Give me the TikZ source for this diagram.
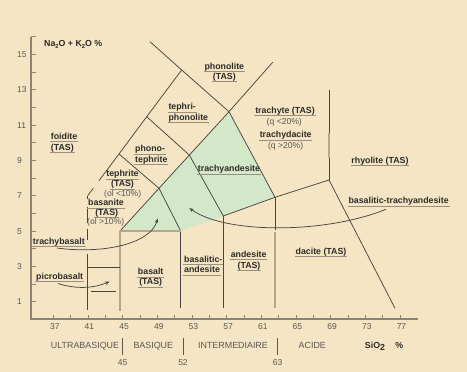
\documentclass[tikz,border=0pt]{standalone}
\usepackage{fontspec}
\setmainfont{Liberation Sans}
\usetikzlibrary{arrows.meta}
\definecolor{bg}{HTML}{F5E5C4}
\definecolor{grn}{HTML}{D3E8C9}
\definecolor{ink}{HTML}{4A4541}
\definecolor{tanl}{HTML}{B3A88F}
\definecolor{axc}{HTML}{8C8373}
\definecolor{txt}{HTML}{2E2B28}
\definecolor{gtxt}{HTML}{5A5652}
\definecolor{ulcol}{HTML}{9A907F}
\newcommand\ulz[1]{\sbox0{#1}\rlap{\hspace{-0.8pt}\textcolor{ulcol}{\rule[-3pt]{\dimexpr\wd0+1.6pt\relax}{0.9pt}}}\usebox0}
\newcommand\subz[1]{\raisebox{-1.6pt}{\fontsize{5.8}{6}\selectfont #1}}
\tikzset{
  ln/.style={draw=ink, line width=0.75pt},
  thk/.style={draw=tanl, line width=1.8pt},
  lab/.style={font=\fontsize{8.8}{10}\selectfont\bfseries, text=txt, inner sep=0pt, anchor=base},
  labw/.style={lab, anchor=base west},
  sml/.style={font=\fontsize{8.6}{10}\selectfont, text=gtxt, inner sep=0pt, anchor=base},
  axn/.style={font=\fontsize{8.5}{10}\selectfont, text=gtxt, inner sep=0pt, anchor=base},
  zone/.style={font=\fontsize{8.9}{10}\selectfont, text=gtxt, inner sep=0pt, anchor=base},
  arr/.style={draw=ink, line width=0.75pt, -{Stealth[length=4.5pt,width=3.5pt]}},
}
\begin{document}
\begin{tikzpicture}[x=1pt,y=-1pt]
\fill[bg] (0,0) rectangle (467,372);
\useasboundingbox (0,0) rectangle (467,372);

% key points
\coordinate (T1) at (150,41.7);
\coordinate (A) at (181.7,70);
\coordinate (G5) at (229,111.7);
\coordinate (T2) at (272.7,62.3);
\coordinate (K) at (146.7,116.7);
\coordinate (U) at (119,154);
\coordinate (J1) at (159,188.3);
\coordinate (J2) at (189.3,155);
\coordinate (G1) at (120,231);
\coordinate (G2) at (180.7,231);
\coordinate (G3) at (223.3,216);
\coordinate (G4) at (275,197.3);
\coordinate (R) at (329,180);
\coordinate (R2) at (329,90);
\coordinate (E) at (395,308.3);
\coordinate (V) at (87.7,195.7);

% green field
\fill[grn] (G1) -- (G2) -- (G3) -- (G4) -- (G5) -- cycle;

% axes
\draw[axc, line width=1.5pt] (31,36.7) -- (31,319) -- (417.7,319);
\foreach \n in {1,...,16} \draw[axc, line width=0.9pt] (31,{319.4-\n*17.67}) -- ++(4.5,0);
\foreach \s in {37,39,...,77} \draw[axc, line width=0.9pt] ({53.3+(\s-37)*8.667},319) -- ++(0,-4);
\foreach \n in {1,3,...,15} \node[axn, anchor=base west] at (17,{319.4-\n*17.67+3.1}) {\n};
\foreach \s in {37,41,...,77} \node[axn] at ({54.8+(\s-37)*8.667},329.8) {\s};

% boundaries
\draw[ln] (T1) -- (A) -- (G5) -- (T2);
\draw[ln] (U) -- (K) -- (A);
\draw[ln] (K) -- (J2) -- (G3);
\draw[ln] (U) -- (J1) -- (G2);
\draw[ln] (G1) -- (G5);
\draw[ln] (G5) -- (G4) -- (R) -- (E);
\draw[ln] (G3) -- (G4);
\draw[ln] (R) -- (R2);
\draw[thk, line width=1.4pt] (329,133) -- (329,158);
\draw[ln] (G2) -- (180.7,308.3);
\draw[ln] (G3) -- (223.3,308.3);
\draw[ln] (G4) -- (275,230);
\draw[thk, line width=1.5pt] (275,232) -- (275,308);
\draw[thk] (G1) -- (G2);
\draw[thk] (G1) -- (120,310.7);
\draw[ln] (V) -- (93.3,188.2);
\draw[ln] (99,180.6) -- (U);
\draw[ln] (V) -- (87.7,198.5);
\draw[ln] (87.7,207) -- (87.7,222.5);
\draw[ln] (87.7,229) -- (87.7,240);
\draw[ln] (87.7,254) -- (87.7,310);
\draw[ln] (87.7,267.3) -- (120,267.3);
\draw[ln] (91,291.7) -- (116,291.7);

% arrows
\draw[arr] (58,283.5) .. controls (78,290) and (96,287.5) .. (109.5,281.5);
\draw[arr] (57,248) .. controls (100,254) and (150,245) .. (157.7,218.5);
\draw[arr] (386,209.3) .. controls (325,234) and (225,234) .. (189.3,208);

% axis title
\node[lab, anchor=base west] at (44,46.5) {Na\subz{2}O + K\subz{2}O \%};

% region labels
\node[lab] at (224.3,69) {\ulz{phonolite}};
\node[lab] at (224.3,79.3) {\ulz{(TAS)}};
\node[labw] at (168.3,110) {\ulz{tephri-}};
\node[labw] at (168.3,120.3) {\ulz{phonolite}};
\node[labw] at (135,151.5) {\ulz{phono-}};
\node[labw] at (135,162.2) {\ulz{tephrite}};
\node[labw] at (50.7,139.2) {\ulz{foidite}};
\node[labw] at (50.7,150.2) {\ulz{(TAS)}};
\node[lab] at (122.5,176.5) {\ulz{tephrite}};
\node[lab] at (122.5,186.5) {\ulz{(TAS)}};
\node[sml] at (122.7,196.5) {(ol <10\%)};
\node[lab] at (106,205.5) {\ulz{basanite}};
\node[lab] at (106.7,215.2) {\ulz{(TAS)}};
\node[sml] at (105.7,224.9) {(ol >10\%)};
\node[labw] at (32.7,244) {\ulz{trachybasalt}};
\node[labw] at (36,279) {\ulz{picrobasalt}};
\node[lab] at (150.7,274.9) {\ulz{basalt}};
\node[lab] at (150.7,284.9) {\ulz{(TAS)}};
\node[labw] at (184,262.2) {\ulz{basalitic-}};
\node[labw] at (184,272.5) {\ulz{andesite}};
\node[lab] at (248.7,257.2) {\ulz{andesite}};
\node[lab] at (249,268.2) {\ulz{(TAS)}};
\node[lab] at (321,254) {\ulz{dacite (TAS)}};
\node[labw] at (348.3,203.9) {\ulz{basalitic-trachyandesite}};
\node[lab] at (380,163.2) {\ulz{rhyolite (TAS)}};
\node[lab] at (285,113.2) {\ulz{trachyte (TAS)}};
\node[sml] at (284.3,124.9) {(q <20\%)};
\node[lab] at (285.7,137.5) {\ulz{trachydacite}};
\node[sml] at (285.7,148.2) {(q >20\%)};
\node[lab] at (229,171.5) {\ulz{trachyandesite}};

% bottom classification
\node[zone] at (85,348.2) {ULTRABASIQUE};
\node[zone] at (153.3,348.2) {BASIQUE};
\node[zone] at (233,348.2) {INTERMEDIAIRE};
\node[zone] at (312.3,348.2) {ACIDE};
\node[lab] at (375,348.2) {SiO\raisebox{-2pt}{2}};
\node[lab] at (399.3,348.2) {\%};
\foreach \x/\v in {122.7/45,183/52,277.7/63} {
  \draw[draw=gtxt, line width=0.7pt] (\x,338) -- (\x,355);
  \node[axn] at (\x,365.8) {\v};
}
\end{tikzpicture}
\end{document}
